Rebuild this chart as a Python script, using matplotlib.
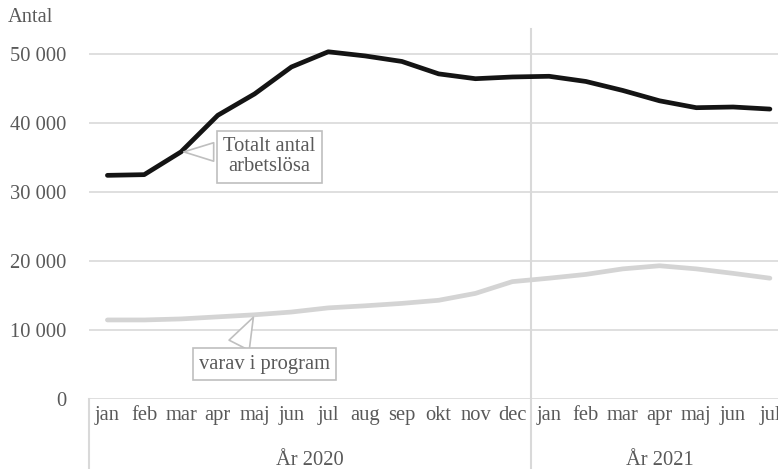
import matplotlib
matplotlib.use("Agg")
import matplotlib.pyplot as plt
import matplotlib.transforms as mtrans

plt.rcParams['font.family'] = ['Liberation Serif', 'DejaVu Serif']

# data
months = ["jan", "feb", "mar", "apr", "maj", "jun", "jul", "aug", "sep", "okt", "nov", "dec",
          "jan", "feb", "mar", "apr", "maj", "jun", "jul"]
years = ["År 2020", "År 2021"]
totalt = [32400, 32500, 35800, 41100, 44200, 48100, 50300, 49700, 48900, 47100, 46400, 46650,
          46750, 46000, 44700, 43200, 42200, 42300, 42000]
program = [11450, 11450, 11600, 11900, 12200, 12600, 13200, 13500, 13850, 14300, 15300, 17000,
           17500, 18050, 18850, 19300, 18850, 18200, 17500]
yticks = [0, 10000, 20000, 30000, 40000, 50000]
ylabels = ["0", "10 000", "20 000", "30 000", "40 000", "50 000"]

txt = "#595959"
grid = "#d9d9d9"
fs = 14.8

fig = plt.figure(figsize=(7.78, 4.69), dpi=100)
ax = fig.add_axes([89/778, 70/469, 689/778, 370/469])

x = list(range(len(months)))
ax.plot(x, program, color="#d4d4d4", lw=3.4, solid_capstyle="round", solid_joinstyle="round", zorder=3)
ax.plot(x, totalt, color="#141414", lw=3.4, solid_capstyle="round", solid_joinstyle="round", zorder=4)

ax.set_xlim(-0.5, 18.22)
ax.set_ylim(0, 53600)
ax.set_yticks(yticks)
ax.set_yticklabels(ylabels)
ax.set_xticks(x)
ax.set_xticklabels(months)
ax.tick_params(axis="both", length=0, labelsize=fs, labelcolor=txt)
ax.tick_params(axis="y", pad=16)
ax.tick_params(axis="x", pad=5)
ax.yaxis.grid(True, color=grid, lw=1.2)
ax.set_axisbelow(True)
for s in ax.spines.values():
    s.set_visible(False)

# group separators and year labels
tr = mtrans.blended_transform_factory(ax.transData, ax.transAxes)
ax.plot([11.5, 11.5], [-0.19, 1.0], transform=tr, color=grid, lw=1.5, clip_on=False)
ax.plot([-0.5, -0.5], [-0.19, 0.0], transform=tr, color=grid, lw=1.5, clip_on=False)
ax.text(5.5, -0.165, years[0], transform=tr, ha="center", va="center", fontsize=fs, color=txt)
ax.text(15, -0.165, years[1], transform=tr, ha="center", va="center", fontsize=fs, color=txt)

fig.text(8/778, 1 - 18/469, "Antal", ha="left", va="center", fontsize=fs, color=txt)

# callouts
box = dict(boxstyle="square,pad=0.3", fc="white", ec="#bfbfbf", lw=1.2)
arr1 = dict(arrowstyle="wedge,tail_width=0.9,shrink_factor=0.5", fc="white", ec="#bfbfbf",
            lw=1.2, relpos=(0.0, 0.62))
arr2 = dict(arrowstyle="wedge,tail_width=1.1,shrink_factor=0.5", fc="white", ec="#bfbfbf",
            lw=1.2, relpos=(0.27, 1.0))
ax.annotate("Totalt antal\narbetslösa", xy=(2, totalt[2]), xytext=(4.4, 35100),
            ha="center", va="center", fontsize=fs, color=txt, linespacing=1.1,
            bbox=box, arrowprops=arr1, zorder=6)
ax.annotate("varav i program", xy=(4, program[4]), xytext=(4.27, 5070),
            ha="center", va="center", fontsize=fs, color=txt,
            bbox=box, arrowprops=arr2, zorder=6)

fig.savefig("out.png", dpi=100)
